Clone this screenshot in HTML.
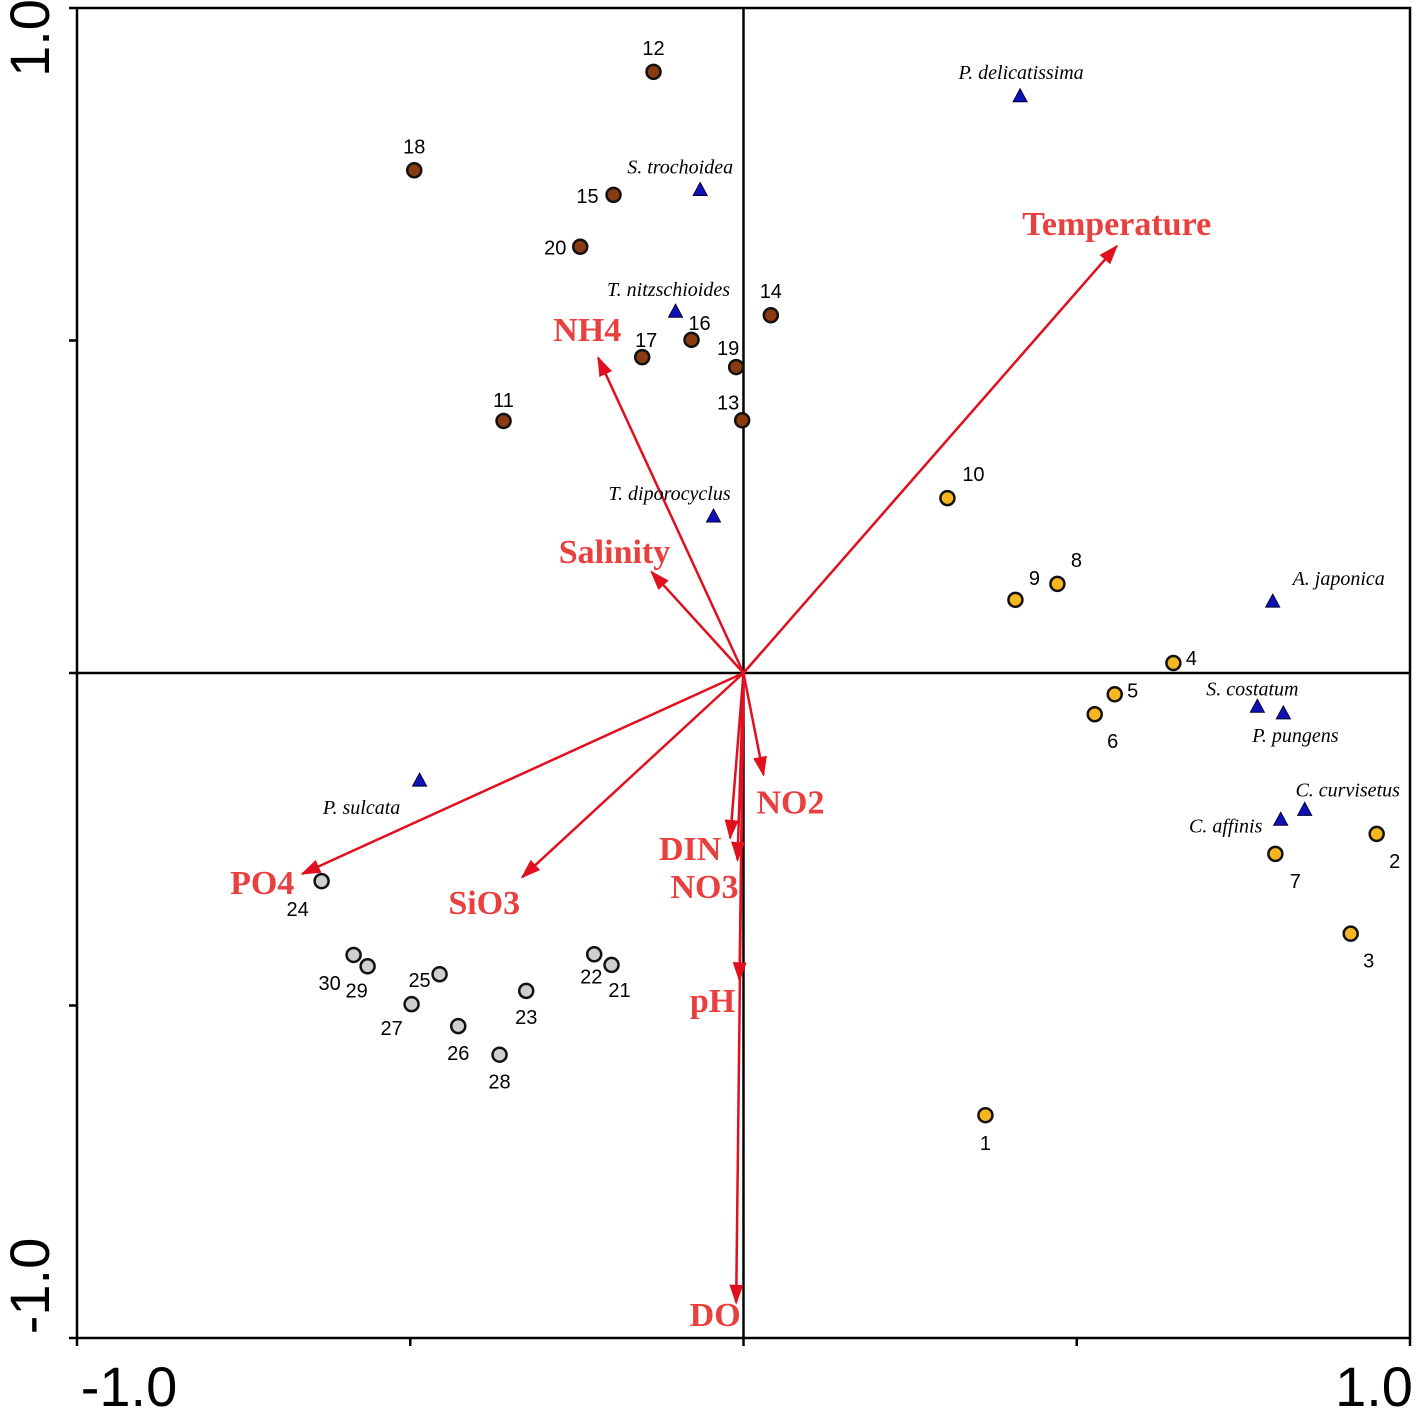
<!DOCTYPE html>
<html><head><meta charset="utf-8"><style>
html,body{margin:0;padding:0;background:#fff;}
svg{display:block;}
</style></head><body>
<svg id="chart" width="1418" height="1415" viewBox="0 0 1418 1415" xmlns="http://www.w3.org/2000/svg">
<defs>
<marker id="ah" markerWidth="20" markerHeight="14" refX="18" refY="7" orient="auto" markerUnits="userSpaceOnUse" viewBox="0 0 20 14">
<path d="M0,0 L20,7 L0,14 Z" fill="#e0101e"/>
</marker>
</defs>
<g id="frame"></g>
<g id="arrows"></g>
<g id="sites"></g>
<g id="species"></g>
</svg>
<script>
// ---- data ----
const siteIds = [1,2,3,4,5,6,7,8,9,10,11,12,13,14,15,16,17,18,19,20,21,22,23,24,25,26,27,28,29,30];
const siteX = [0.363,0.950,0.911,0.645,0.557,0.527,0.798,0.471,0.408,0.306,-0.360,-0.135,-0.002,0.041,-0.195,-0.078,-0.152,-0.494,-0.011,-0.245,-0.198,-0.224,-0.326,-0.633,-0.456,-0.428,-0.498,-0.366,-0.564,-0.585];
const siteY = [-0.665,-0.242,-0.392,0.015,-0.032,-0.062,-0.272,0.134,0.110,0.263,0.379,0.904,0.380,0.538,0.719,0.501,0.475,0.756,0.460,0.641,-0.439,-0.423,-0.478,-0.313,-0.453,-0.531,-0.498,-0.574,-0.441,-0.424];
const speciesNames = ["P. delicatissima","S. trochoidea","T. nitzschioides","T. diporocyclus","A. japonica","S. costatum","P. pungens","C. curvisetus","C. affinis","P. sulcata"];
const speciesX = [0.415,-0.065,-0.102,-0.045,0.794,0.771,0.810,0.842,0.806,-0.486];
const speciesY = [0.868,0.727,0.544,0.236,0.108,-0.050,-0.060,-0.205,-0.220,-0.161];
const envNames = ["Temperature","NH4","Salinity","PO4","SiO3","NO2","DIN","NO3","pH","DO"];
const envX = [0.560,-0.218,-0.138,-0.662,-0.332,0.030,-0.020,-0.009,-0.006,-0.011];
const envY = [0.642,0.474,0.152,-0.302,-0.307,-0.153,-0.248,-0.281,-0.462,-0.947];
const xTicks = [-1.0,-0.5,0,0.5,1.0];
const yTicks = [-1.0,-0.5,0,0.5,1.0];
const axisLabels = ["-1.0","1.0"];

// ---- styling (label offsets in px) ----
const siteLab = {1:[0,28],2:[18,27],3:[18,27],4:[18,-5],5:[18,-4],6:[18,27],7:[20,27],8:[19,-24],9:[19,-22],10:[26,-24],
11:[0,-21],12:[0,-24],13:[-14,-18],14:[0,-24],15:[-26,1],16:[8,-17],17:[4,-17],18:[0,-24],19:[-8,-19],20:[-25,1],
21:[8,25],22:[-3,22],23:[0,26],24:[-24,28],25:[-20,6],26:[0,27],27:[-20,24],28:[0,27],29:[-11,24],30:[-24,28]};
const spLab = [[1,-23],[-20,-22],[-7,-21],[-44,-22],[66,-22],[-5,-17],[12,23],[43,-19],[-55,7],[-58,28]];
const envLab = [[0,-22],[-11,-28],[-37,-20],[-40,9],[-38,26],[27,28],[-40,11],[-33,27],[-27,21],[-21,12]];

const X0=77, X1=1410, Y0=8, Y1=1338;
const sx = v => X0 + (v+1)/2*(X1-X0);
const sy = v => Y1 - (v+1)/2*(Y1-Y0);
const NS="http://www.w3.org/2000/svg";
function mk(tag, attrs, parent){const e=document.createElementNS(NS,tag);for(const k in attrs)e.setAttribute(k,attrs[k]);parent.appendChild(e);return e;}

const frame=document.getElementById('frame');
let r=mk('rect',{x:X0,y:Y0,width:X1-X0,height:Y1-Y0,fill:'none',stroke:'#000','stroke-width':2.5},frame);


let l=mk('line',{x1:sx(0),y1:Y0,x2:sx(0),y2:Y1,stroke:'#000','stroke-width':2.5},frame);


l=mk('line',{x1:X0,y1:sy(0),x2:X1,y2:sy(0),stroke:'#000','stroke-width':2.5},frame);


xTicks.forEach(t=>{const e=mk('line',{x1:sx(t),y1:Y1,x2:sx(t),y2:Y1+8,stroke:'#000','stroke-width':2.5},frame);

});
yTicks.forEach(t=>{const e=mk('line',{x1:X0-8,y1:sy(t),x2:X0,y2:sy(t),stroke:'#000','stroke-width':2.5},frame);

});
const tf='font-family:"Liberation Sans",sans-serif;font-size:56px;';
let t=mk('text',{x:sx(-1)+52,y:1406,'text-anchor':'middle',style:tf},frame);t.textContent=axisLabels[0];


t=mk('text',{x:sx(1)-36,y:1406,'text-anchor':'middle',style:tf},frame);t.textContent=axisLabels[1];


t=mk('text',{x:0,y:0,'text-anchor':'middle',style:tf,transform:`translate(49,${sy(1)+30}) rotate(-90)`},frame);t.textContent=axisLabels[1];


t=mk('text',{x:0,y:0,'text-anchor':'middle',style:tf,transform:`translate(49,${sy(-1)-52}) rotate(-90)`},frame);t.textContent=axisLabels[0];



const ag=document.getElementById('arrows');
envNames.forEach((n,i)=>{
  const a=mk('line',{x1:sx(0),y1:sy(0),x2:sx(envX[i]),y2:sy(envY[i]),stroke:'#e0101e','stroke-width':2.5,'marker-end':'url(#ah)'},ag);
  
  
  const tx=mk('text',{x:sx(envX[i])+envLab[i][0],y:sy(envY[i])+envLab[i][1]+11,'text-anchor':'middle',fill:'#e8403f',style:'font-family:"Liberation Serif",serif;font-weight:bold;font-size:34px;'},ag);
  tx.textContent=n;
  
  
});

const sg=document.getElementById('sites');
siteIds.forEach((id,i)=>{
  const fill = id<=10?'#f7b520':(id<=20?'#8b3b12':'#cfcfcf');
  const c=mk('circle',{cx:sx(siteX[i]),cy:sy(siteY[i]),r:7,fill:fill,stroke:'#111','stroke-width':2.5},sg);
  
  
  const o=siteLab[id];
  const tx=mk('text',{x:sx(siteX[i])+o[0],y:sy(siteY[i])+o[1]+7,'text-anchor':'middle',style:'font-family:"Liberation Sans",sans-serif;font-size:20px;'},sg);
  tx.textContent=id;
  
  
});

const pg=document.getElementById('species');
speciesNames.forEach((n,i)=>{
  const x=sx(speciesX[i]), y=sy(speciesY[i]);
  const p=mk('polygon',{points:`${x},${y-7} ${x-7},${y+6} ${x+7},${y+6}`,fill:'#1010b8',stroke:'#000033','stroke-width':1},pg);
  
  
  const tx=mk('text',{x:x+spLab[i][0],y:y+spLab[i][1]+6,'text-anchor':'middle',style:'font-family:"Liberation Serif",serif;font-style:italic;font-size:20px;'},pg);
  tx.textContent=n;
  
  
});
</script>
</body></html>
